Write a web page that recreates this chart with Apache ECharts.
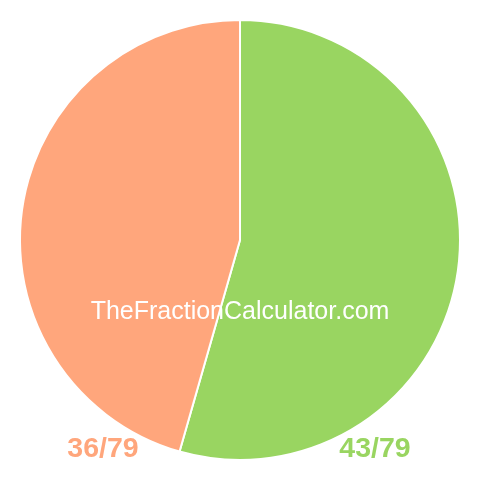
<!DOCTYPE html>
<html><head><meta charset="utf-8">
<script src="https://cdn.jsdelivr.net/npm/echarts@6/dist/echarts.min.js"></script>
<style>html,body{margin:0;padding:0;background:#fff}#c{width:480px;height:480px}</style>
</head><body><div id="c"></div>
<script>
const sliceNames = ['43/79', '36/79'];
const sliceValues = [43, 36];
const sliceColors = ['#99D561', '#FFA67C'];
const watermark = 'TheFractionCalculator.com';

const chart = echarts.init(document.getElementById('c'), null, {renderer: 'canvas'});
chart.setOption({
  animation: false,
  series: [{
    type: 'pie',
    center: [240, 240],
    radius: [0, 220],
    startAngle: 90,
    clockwise: true,
    label: {show: false},
    labelLine: {show: false},
    emphasis: {disabled: true},
    itemStyle: {borderColor: '#fff', borderWidth: 2},
    data: sliceNames.map((n, i) => ({name: n, value: sliceValues[i], itemStyle: {color: sliceColors[i]}}))
  }],
  graphic: [
    {type: 'text', z: 100, x: 240, y: 312, style: {text: watermark, fill: '#fff', font: '25px "Liberation Sans", Arial, sans-serif', textAlign: 'center', textVerticalAlign: 'middle'}},
    {type: 'text', z: 100, x: 103, y: 449, style: {text: sliceNames[1], fill: sliceColors[1], font: 'bold 28.5px "Liberation Sans", Arial, sans-serif', textAlign: 'center', textVerticalAlign: 'middle'}},
    {type: 'text', z: 100, x: 375, y: 449, style: {text: sliceNames[0], fill: sliceColors[0], font: 'bold 28.5px "Liberation Sans", Arial, sans-serif', textAlign: 'center', textVerticalAlign: 'middle'}}
  ]
});
</script></body></html>
